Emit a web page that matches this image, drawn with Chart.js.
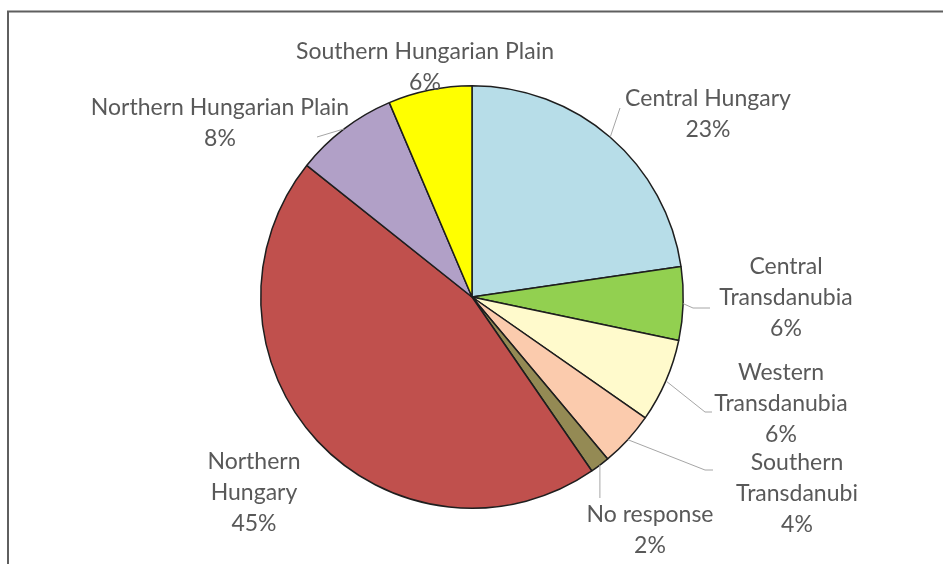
<!DOCTYPE html>
<html>
<head>
<meta charset="utf-8">
<script src="https://cdn.jsdelivr.net/npm/chart.js@4/dist/chart.umd.min.js"></script>
<style>
  html, body { margin: 0; padding: 0; background: #ffffff; }
  #wrap { position: relative; width: 943px; height: 564px; }
</style>
</head>
<body>
<div id="wrap"><canvas id="pie" width="943" height="564"></canvas></div>
<script>
// Respondents by region (share of total, %), clockwise from 12 o'clock
const regions = [
  'Central Hungary',
  'Central Transdanubia',
  'Western Transdanubia',
  'Southern Transdanubi',
  'No response',
  'Northern Hungary',
  'Northern Hungarian Plain',
  'Southern Hungarian Plain'
];
const shares = [22.7, 5.6, 6.4, 4.2, 1.5, 45.3, 7.9, 6.4];

// How each category label is broken over lines
const labelLines = [
  ['Central Hungary'],
  ['Central', 'Transdanubia'],
  ['Western', 'Transdanubia'],
  ['Southern', 'Transdanubi'],
  ['No response'],
  ['Northern', 'Hungary'],
  ['Northern Hungarian Plain'],
  ['Southern Hungarian Plain']
];

const sliceColors = ['#B7DDE8', '#92D050', '#FFFACC', '#FBCBAD', '#948A54', '#C0504D', '#B1A0C7', '#FFFF00'];

// Label placement: block centre (dx, first-line dy) relative to the pie centre,
// plus optional leader path (points relative to the centre; null x keeps the arc x).
const labelLayout = [
  { dx: 236, dy: -198, leader: [[148, -189]] },
  { dx: 314, dy: -30,  leader: [[221, 11], [238, 11]] },
  { dx: 309, dy: 76,   leader: [[233, 115], [240, 115]] },
  { dx: 325, dy: 166,  leader: [[233, 173], [241, 173]] },
  { dx: 178, dy: 218,  leader: [[null, 201]] },
  { dx: -218, dy: 165, leader: null },
  { dx: -252, dy: -189, leader: [[-155, -160]] },
  { dx: -47, dy: -245, leader: null }
];

const LINE_H = 31;
const TEXT_COLOR = '#595959';
const FONT = '23px Lato, "Open Sans", sans-serif';

const total = shares.reduce((a, b) => a + b, 0);

const labelPlugin = {
  id: 'regionLabels',
  afterDatasetsDraw(chart) {
    const ctx = chart.ctx;
    const meta = chart.getDatasetMeta(0);
    ctx.save();
    meta.data.forEach((arc, i) => {
      const p = arc.getProps(['x', 'y', 'startAngle', 'endAngle', 'outerRadius'], true);
      const cx = p.x, cy = p.y;
      const mid = (p.startAngle + p.endAngle) / 2;
      const ax = cx + Math.cos(mid) * p.outerRadius;
      const ay = cy + Math.sin(mid) * p.outerRadius;
      const lay = labelLayout[i];
      if (lay.leader) {
        ctx.beginPath();
        ctx.moveTo(ax, ay);
        lay.leader.forEach(pt => {
          const x = pt[0] === null ? ax : cx + pt[0];
          ctx.lineTo(x, cy + pt[1]);
        });
        ctx.strokeStyle = '#a6a6a6';
        ctx.lineWidth = 1;
        ctx.stroke();
      }
      const pct = Math.round(shares[i] / total * 100) + '%';
      const lines = labelLines[i].concat([pct]);
      ctx.font = FONT;
      ctx.fillStyle = TEXT_COLOR;
      ctx.textAlign = 'center';
      ctx.textBaseline = 'middle';
      lines.forEach((t, k) => {
        ctx.fillText(t, cx + lay.dx, cy + lay.dy + k * LINE_H);
      });
    });
    ctx.restore();
  }
};

const framePlugin = {
  id: 'frame',
  beforeDraw(chart) {
    const ctx = chart.ctx;
    ctx.save();
    ctx.fillStyle = '#ffffff';
    ctx.fillRect(0, 0, chart.width, chart.height);
    ctx.strokeStyle = '#5f5f5f';
    ctx.lineWidth = 2;
    ctx.beginPath();
    ctx.moveTo(chart.width, 11.5);
    ctx.lineTo(8, 11.5);
    ctx.lineTo(8, chart.height);
    ctx.stroke();
    ctx.restore();
  }
};

new Chart(document.getElementById('pie'), {
  type: 'pie',
  data: {
    labels: regions,
    datasets: [{
      data: shares,
      backgroundColor: sliceColors,
      borderColor: '#1e1e1e',
      borderWidth: 1.5
    }]
  },
  options: {
    responsive: false,
    animation: false,
    rotation: 0,
    layout: { padding: { top: 85, bottom: 55, left: 260, right: 259 } },
    plugins: {
      legend: { display: false },
      tooltip: { enabled: false },
      title: { display: false }
    }
  },
  plugins: [framePlugin, labelPlugin]
});
</script>
</body>
</html>
